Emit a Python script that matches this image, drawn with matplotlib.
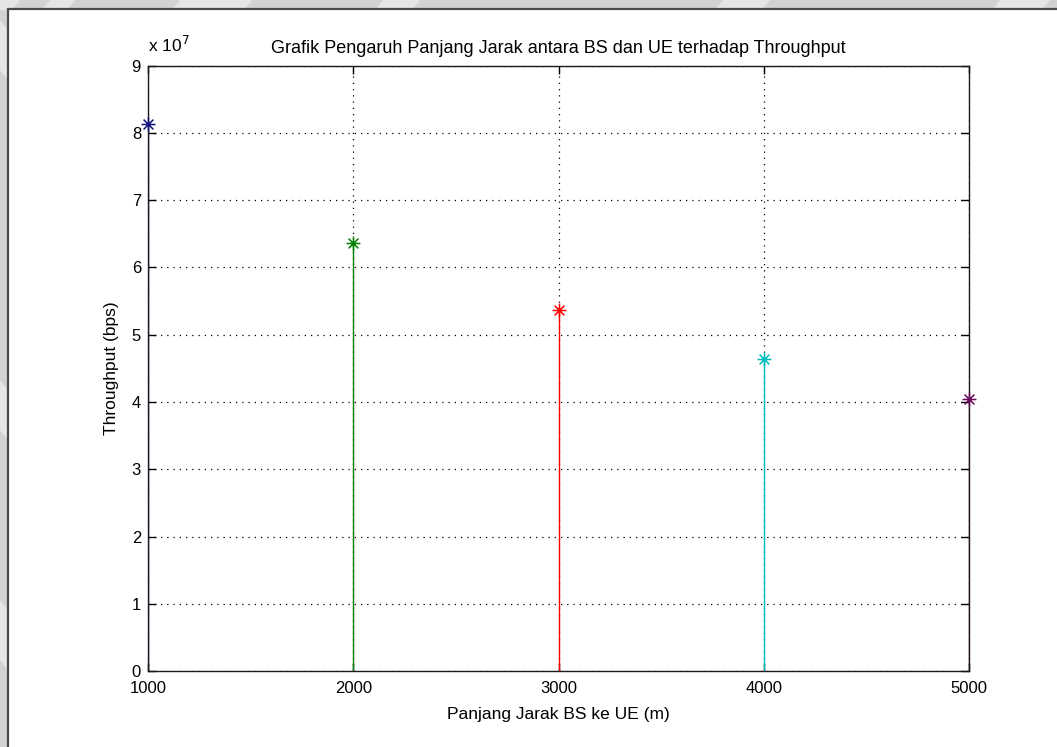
import matplotlib
matplotlib.use("Agg")
import matplotlib.pyplot as plt
from matplotlib.patches import Rectangle, Polygon
from matplotlib.path import Path
from matplotlib.ticker import FuncFormatter, MultipleLocator

# Distance between BS and UE (m) and resulting throughput (bps)
distances = [1000, 2000, 3000, 4000, 5000]
throughput = [8.13e7, 6.37e7, 5.37e7, 4.64e7, 4.05e7]
stem_colors = ["#101080", "#008000", "#ff0000", "#00bfbf", "#6a0a5a"]

title_text = "Grafik Pengaruh Panjang Jarak antara BS dan UE terhadap Throughput"
x_label = "Panjang Jarak BS ke UE (m)"
y_label = "Throughput (bps)"

plt.rcParams["font.family"] = ["Liberation Sans", "DejaVu Sans"]

W, H = 1057, 747
fig = plt.figure(figsize=(W / 100, H / 100), dpi=100)
fig.patch.set_facecolor("#d2d2d2")

def px_rect(x0, y0, x1, y1, **kw):
    return Rectangle((x0 / W, 1 - y1 / H), (x1 - x0) / W, (y1 - y0) / H,
                     transform=fig.transFigure, **kw)

# lighter diagonal streaks in the grey frame
for xs in [(0, 20), (50, 75), (180, 252), (383, 420), (723, 770), (1000, 1050)]:
    fig.patches.append(Polygon([(xs[0] / W, 1.0), (xs[1] / W, 1.0),
                                ((xs[1] - 8) / W, 1 - 10 / H), ((xs[0] - 8) / W, 1 - 10 / H)],
                               closed=True, transform=fig.transFigure,
                               facecolor="#e6e6e6", edgecolor="none", zorder=0))
for ys in [(20, 70), (380, 430), (600, 660)]:
    fig.patches.append(Polygon([(0, 1 - ys[0] / H), (8 / W, 1 - (ys[0] + 10) / H),
                                (8 / W, 1 - (ys[1] + 10) / H), (0, 1 - ys[1] / H)],
                               closed=True, transform=fig.transFigure,
                               facecolor="#e6e6e6", edgecolor="none", zorder=0))

# white panel with dark frame line
fig.patches.append(px_rect(8, 9, W + 5, H + 5, facecolor="white",
                           edgecolor="#4a4a4a", linewidth=1.6, zorder=1))

# asterisk marker made of four strokes
d = 0.7071
asterisk = Path([(-1, 0), (1, 0), (0, -1), (0, 1), (-d, -d), (d, d), (-d, d), (d, -d)],
                [Path.MOVETO, Path.LINETO] * 4)

ax = fig.add_axes([148 / W, 1 - 671.3 / H, (969 - 148) / W, (671.3 - 65.6) / H])
ax.set_facecolor("white")
ax.set_zorder(2)

for x, y, c in zip(distances, throughput, stem_colors):
    markerline, stemlines, baseline = ax.stem([x], [y])
    stemlines.set_color(c)
    stemlines.set_linewidth(1.0)
    markerline.set_marker(asterisk)
    markerline.set_color(c)
    markerline.set_markerfacecolor("none")
    markerline.set_markersize(10)
    markerline.set_markeredgewidth(1.1)
    markerline.set_clip_on(False)
    markerline.set_zorder(4)
    baseline.set_visible(False)

ax.set_xlim(1000, 5000)
ax.set_ylim(0, 9e7)
ax.xaxis.set_major_locator(MultipleLocator(1000))
ax.yaxis.set_major_locator(MultipleLocator(1e7))
ax.yaxis.set_major_formatter(FuncFormatter(lambda v, p: f"{v / 1e7:g}"))

ax.grid(True, linestyle=(0, (1, 4)), color="black", linewidth=0.9)
ax.set_axisbelow(True)
ax.tick_params(direction="in", length=6, width=1, top=True, right=True,
               labelsize=12, colors="black")
ax.tick_params(axis="x", pad=7)
ax.tick_params(axis="y", pad=5)
for s in ax.spines.values():
    s.set_color("#1a1a1a")
    s.set_linewidth(1.0)

ax.text(0, 1.018, "x 10$^{7}$", transform=ax.transAxes, fontsize=12.5,
        ha="left", va="bottom")
ax.set_title(title_text, fontsize=13, pad=9)
ax.set_xlabel(x_label, fontsize=12.5, labelpad=8)
ax.set_ylabel(y_label, fontsize=12.5, labelpad=9)

fig.savefig("out.png", dpi=100, facecolor=fig.get_facecolor())
